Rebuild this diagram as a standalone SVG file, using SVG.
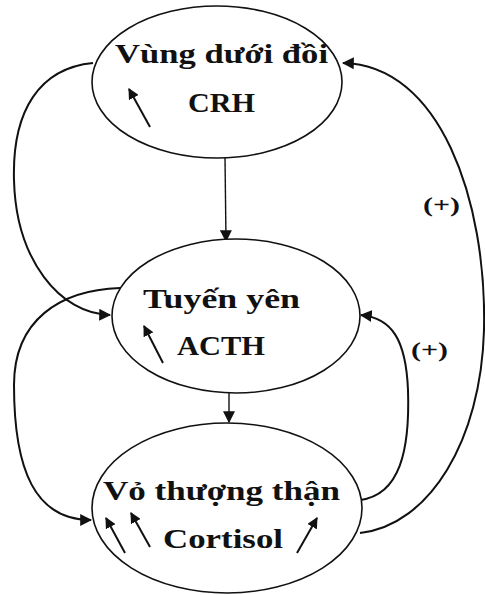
<svg xmlns="http://www.w3.org/2000/svg" width="485" height="595" viewBox="0 0 485 595">
  <style>
    .node ellipse { fill: #ffffff; stroke: #111111; stroke-width: 1.6; }
    .lbl { font-family: "Liberation Serif", "DejaVu Serif", serif; font-weight: bold; font-size: 27px; fill: #111111; }
    .sign { font-family: "Liberation Serif", "DejaVu Serif", serif; font-weight: bold; font-size: 22px; fill: #111111; }
    .conn { fill: none; stroke: #111111; stroke-width: 2; }
    .thin { fill: none; stroke: #111111; stroke-width: 1.4; }
    .up { fill: none; stroke: #111111; stroke-width: 2; marker-end: url(#tip); }
  </style>
  <defs>
    <marker id="head" viewBox="0 0 10 10" refX="9" refY="5" markerWidth="12" markerHeight="12" markerUnits="userSpaceOnUse" orient="auto">
      <path d="M0,0 L10,5 L0,10 Z" fill="#111111"/>
    </marker>
    <marker id="tip" viewBox="0 0 10 10" refX="9" refY="5" markerWidth="11" markerHeight="11" markerUnits="userSpaceOnUse" orient="auto">
      <path d="M0,0 L10,5 L0,10 Z" fill="#111111"/>
    </marker>
  </defs>

  <!-- connectors -->
  <g id="connectors">
    <line class="thin" x1="225" y1="157" x2="226" y2="241" marker-end="url(#head)"/>
    <line class="thin" x1="229" y1="393" x2="229" y2="422" marker-end="url(#head)"/>
    <path class="conn" d="M93,63 C40,68 12,110 14,180 C16,260 60,314 110,315" marker-end="url(#head)"/>
    <path class="conn" d="M120,288 C60,290 14,320 14,385 C14,470 35,520 91,520" marker-end="url(#head)"/>
    <path class="conn" d="M360,500 C400,495 410,450 408,390 C406,340 392,318 361,315" marker-end="url(#head)"/>
    <path class="conn" d="M360,533 C430,525 481,440 484,330 C487,200 440,65 343,63" marker-end="url(#head)"/>
    <text class="sign" x="423" y="212" textLength="37" lengthAdjust="spacingAndGlyphs">(+)</text>
    <text class="sign" x="411" y="357" textLength="37" lengthAdjust="spacingAndGlyphs">(+)</text>
  </g>

  <!-- hypothalamus -->
  <g id="node-hypothalamus" class="node">
    <ellipse cx="217" cy="82" rx="125" ry="76"/>
    <text class="lbl" x="115" y="63" textLength="213" lengthAdjust="spacingAndGlyphs">Vùng dưới đồi</text>
    <text class="lbl" x="188" y="112" textLength="67" lengthAdjust="spacingAndGlyphs">CRH</text>
    <line class="up" x1="150" y1="127" x2="129" y2="89"/>
  </g>

  <!-- pituitary -->
  <g id="node-pituitary" class="node">
    <ellipse cx="236" cy="316" rx="124" ry="77"/>
    <text class="lbl" x="143" y="308" textLength="157" lengthAdjust="spacingAndGlyphs">Tuyến yên</text>
    <text class="lbl" x="177" y="355" textLength="88" lengthAdjust="spacingAndGlyphs">ACTH</text>
    <line class="up" x1="163" y1="363" x2="144" y2="326"/>
  </g>

  <!-- adrenal cortex -->
  <g id="node-adrenal" class="node">
    <ellipse cx="227" cy="508" rx="135" ry="85"/>
    <text class="lbl" x="103" y="500" textLength="237" lengthAdjust="spacingAndGlyphs">Vỏ thượng thận</text>
    <text class="lbl" x="163" y="548" textLength="120" lengthAdjust="spacingAndGlyphs">Cortisol</text>
    <line class="up" x1="125" y1="553" x2="106" y2="518"/>
    <line class="up" x1="150" y1="547" x2="131" y2="513"/>
    <line class="up" x1="297" y1="553" x2="317" y2="518"/>
  </g>
</svg>
